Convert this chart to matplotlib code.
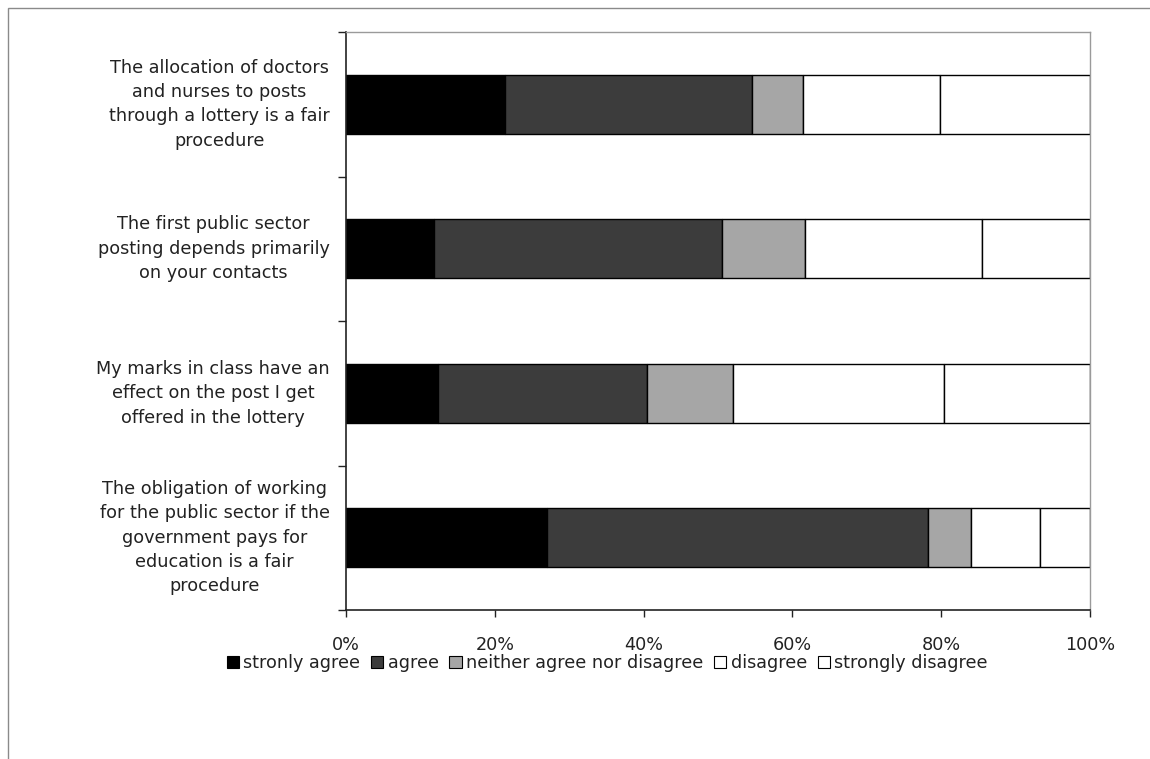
import matplotlib

matplotlib.use("Agg")
import matplotlib.pyplot as plt
from matplotlib.patches import Patch, Rectangle
import numpy as np

# survey statements, top to bottom
statements = [
    "The allocation of doctors\nand nurses to posts\nthrough a lottery is a fair\nprocedure",
    "The first public sector\nposting depends primarily\non your contacts",
    "My marks in class have an\neffect on the post I get\noffered in the lottery",
    "The obligation of working\nfor the public sector if the\ngovernment pays for\neducation is a fair\nprocedure",
]

# response shares (%) per statement
strongly_agree = [21.4, 11.8, 12.4, 27.0]
agree = [33.2, 38.7, 28.1, 51.2]
neither = [6.8, 11.2, 11.5, 5.8]
disagree = [18.4, 23.8, 28.4, 9.3]
strongly_disagree = [20.2, 14.5, 19.6, 6.7]

responses = ["stronly agree", "agree", "neither agree nor disagree",
             "disagree", "strongly disagree"]
fills = ["#000000", "#3c3c3c", "#a6a6a6", "#ffffff", "#ffffff"]

FS = 12.7
plt.rcParams["font.family"] = "DejaVu Sans"

fig = plt.figure(figsize=(11.5, 7.59), dpi=100)
ax = fig.add_axes([0.3009, 0.1963, 0.6470, 0.7615])

# outer chart frame
fig.patches.append(Rectangle((0.007, -0.05), 1.1, 0.0395 + 1.0, transform=fig.transFigure,
                             fill=False, edgecolor="#8a8a8a", linewidth=1.0))

series = [strongly_agree, agree, neither, disagree, strongly_disagree]
y = np.arange(len(statements))
left = np.zeros(len(statements))
for vals, color, name in zip(series, fills, responses):
    vals = np.array(vals)
    ax.barh(y, vals, left=left, height=0.41, color=color, edgecolor="black",
            linewidth=1.0, label=name)
    left += vals

ax.set_xlim(0, 100)
ax.set_ylim(len(statements) - 0.5, -0.5)
ax.set_xticks(np.arange(0, 101, 20))
ax.set_xticklabels([f"{v}%" for v in range(0, 101, 20)], fontsize=FS, color="#222222")
ax.tick_params(axis="x", direction="out", length=5, width=1, pad=14, color="#222222")

# category boundary ticks on the y axis, labels drawn as text
ax.set_yticks(np.arange(-0.5, len(statements), 1.0))
ax.set_yticklabels([])
ax.tick_params(axis="y", direction="out", length=6, width=1, color="#222222")
for yi, label in zip(y, statements):
    ax.text(-0.022, yi, label, transform=ax.get_yaxis_transform(), ha="right",
            va="center", multialignment="center", fontsize=FS, color="#222222",
            linespacing=1.45)

for side in ["left", "bottom"]:
    ax.spines[side].set_color("#222222")
    ax.spines[side].set_linewidth(1.2)
for side in ["top", "right"]:
    ax.spines[side].set_color("#9a9a9a")
    ax.spines[side].set_linewidth(1.0)

handles = [Patch(facecolor=c, edgecolor="black", linewidth=0.8) for c in fills]
fig.legend(handles, responses, loc="center", bbox_to_anchor=(0.528, 0.1265), ncol=5,
           frameon=False, fontsize=FS, handlelength=0.7, handleheight=0.7,
           handletextpad=0.25, columnspacing=0.6, labelcolor="#222222")

fig.savefig("out.png", dpi=100, facecolor="white")
